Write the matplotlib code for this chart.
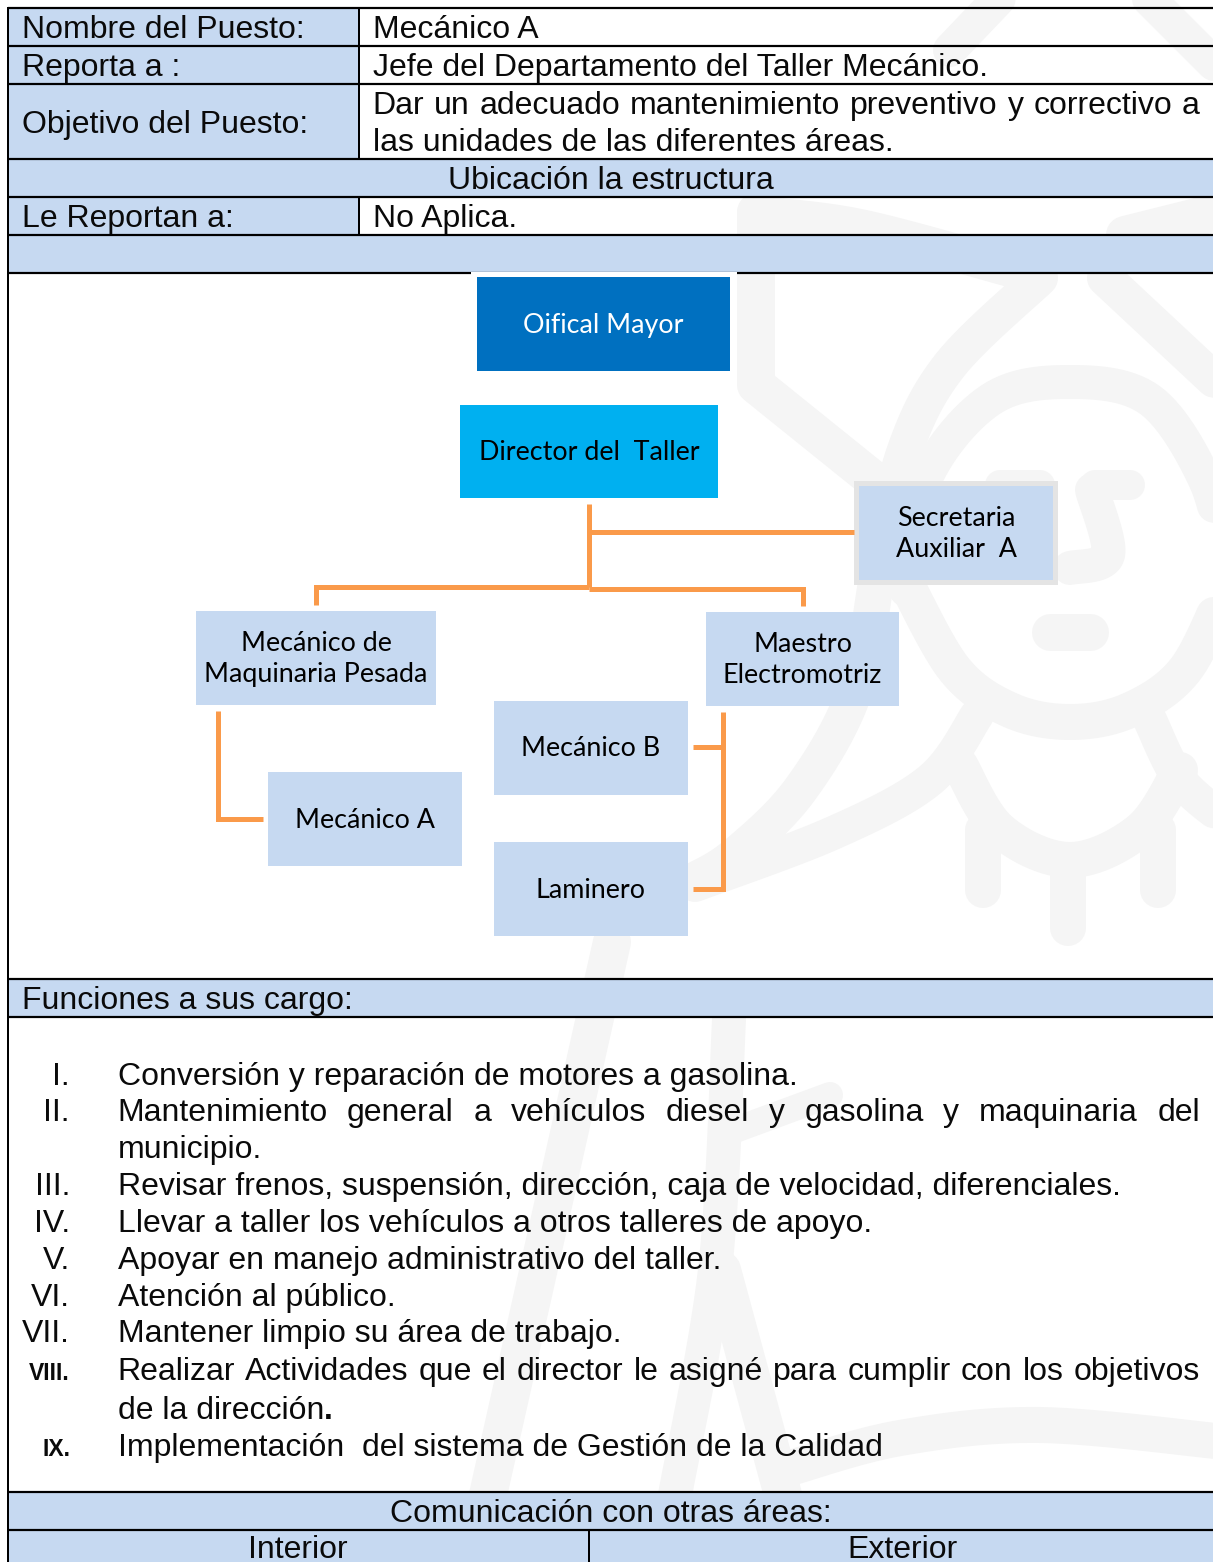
import matplotlib
matplotlib.use("Agg")
import matplotlib.pyplot as plt
import numpy as np
from matplotlib.patches import Rectangle

BLUE = "#c6d9f1"
ORANGE = "#fa9a4a"
MARK = "#f5f5f5"
FS = 23.0  # body text, pt at dpi 100

header_labels = ["Nombre del Puesto:", "Reporta a :", "Objetivo del Puesto:", "Le Reportan a:"]
header_values = ["Mecánico A", "Jefe del Departamento del Taller Mecánico.", "No Aplica."]
objetivo = ["Dar un adecuado mantenimiento preventivo y correctivo a",
            "las unidades de las diferentes áreas."]
section_titles = ["Ubicación la estructura", "Funciones a sus cargo:", "Comunicación con otras áreas:"]
col_titles = ["Interior", "Exterior"]

org_names = ["Oifical Mayor", "Director del  Taller", "Secretaria\nAuxiliar  A",
             "Mecánico de\nMaquinaria Pesada", "Maestro\nElectromotriz",
             "Mecánico B", "Mecánico A", "Laminero"]
org_colors = ["#0070c0", "#00b0f0", BLUE, BLUE, BLUE, BLUE, BLUE, BLUE]
org_text = ["white", "black", "black", "black", "black", "black", "black", "black"]
org_boxes = [(477, 277, 730, 371), (460, 405, 718, 498), (859, 486, 1053, 580),
             (196, 611, 436, 705), (706, 612, 899, 706), (494, 701, 688, 795),
             (268, 772, 462, 866), (494, 842, 688, 936)]

numerals = ["I.", "II.", "", "III.", "IV.", "V.", "VI.", "VII.", "VIII.", "", "IX."]
funciones = ["Conversión y reparación de motores a gasolina.",
             "Mantenimiento general a vehículos diesel y gasolina y maquinaria del",
             "municipio.",
             "Revisar frenos, suspensión, dirección, caja de velocidad, diferenciales.",
             "Llevar a taller los vehículos a otros talleres de apoyo.",
             "Apoyar en manejo administrativo del taller.",
             "Atención al público.",
             "Mantener limpio su área de trabajo.",
             "Realizar Actividades que el director le asigné para cumplir con los objetivos",
             "de la dirección",
             "Implementación  del sistema de Gestión de la Calidad"]
funciones_y = [1085, 1121, 1158, 1195, 1232, 1269, 1306, 1342, 1380, 1419, 1456]
justified = [1, 8]

# watermark strokes, pixel coordinates, (points, width in px, smooth or not)
watermark = [
    ([(950, 50), (1012, -15)], 34, False),
    ([(1135, -15), (1225, 75)], 34, False),
    ([(756, 212), (756, 385), (905, 505)], 38, False),
    ([(756, 215), (860, 228), (1010, 268)], 38, True),
    ([(1125, 235), (1225, 210)], 38, False),
    ([(1040, 278), (950, 365), (905, 450), (880, 560), (855, 690), (800, 790), (735, 855), (695, 880)], 36, True),
    ([(1105, 278), (1225, 390)], 36, False),
    ([(906, 590), (925, 480), (990, 400), (1070, 382), (1150, 400), (1205, 480), (1225, 560)], 34, True),
    ([(906, 583), (955, 670), (1010, 710), (1070, 722), (1130, 710), (1185, 670), (1225, 590)], 36, True),
    ([(695, 885), (833, 833), (930, 780), (977, 715)], 34, True),
    ([(960, 765), (1000, 830), (1070, 860), (1140, 830), (1180, 770)], 36, True),
    ([(983, 830), (983, 890)], 36, False),
    ([(1068, 860), (1068, 928)], 36, False),
    ([(1158, 830), (1158, 890)], 36, False),
    ([(1150, 720), (1180, 780), (1225, 820)], 34, True),
    ([(1050, 632), (1090, 632)], 37, False),
    ([(1000, 485), (1040, 485)], 30, False),
    ([(1095, 485), (1130, 485)], 30, False),
    ([(1092, 490), (1108, 555), (1070, 568)], 34, True),
    ([(612, 942), (488, 1495)], 38, False),
    ([(729, 1020), (715, 1270), (675, 1495)], 34, True),
    ([(722, 1270), (783, 1495)], 38, False),
    ([(735, 1130), (830, 1095)], 26, False),
    ([(790, 1468), (900, 1438), (1040, 1425), (1225, 1442)], 36, True),
]

fig = plt.figure(figsize=(12.13, 15.62), dpi=100)
ax = fig.add_axes([0, 0, 1, 1])
ax.set_xlim(0, 1213)
ax.set_ylim(1562, 0)
ax.axis("off")
px = 72 / 100


def smooth(pts):
    # catmull-rom through the points
    p = np.array([pts[0]] + list(pts) + [pts[-1]], dtype=float)
    out = []
    for i in range(1, len(p) - 2):
        for t in np.linspace(0, 1, 16):
            out.append(0.5 * (2 * p[i] + (p[i + 1] - p[i - 1]) * t
                              + (2 * p[i - 1] - 5 * p[i] + 4 * p[i + 1] - p[i + 2]) * t ** 2
                              + (3 * p[i] - p[i - 1] - 3 * p[i + 1] + p[i + 2]) * t ** 3))
    return np.array(out)


def put(x, y, s, ha="left", size=FS, weight="normal"):
    return ax.text(x, y, s, ha=ha, va="baseline", fontsize=size, weight=weight,
                   family="Liberation Sans", color="#0a0a0a", zorder=6)


def put_justified(x0, x1, y, s):
    # spread the words so the line runs to the right margin
    words = s.split()
    r = fig.canvas.get_renderer()
    inv = ax.transData.inverted()
    widths = []
    for w in words:
        t = put(0, y, w)
        bb = t.get_window_extent(r)
        widths.append(inv.transform((bb.x1, 0))[0] - inv.transform((bb.x0, 0))[0])
        t.remove()
    gap = (x1 - x0 - sum(widths)) / (len(words) - 1)
    x = x0
    for w, wd in zip(words, widths):
        put(x, y, w)
        x += wd + gap


for pts, w, curved in watermark:
    xy = smooth(pts) if curved else np.array(pts, dtype=float)
    ax.plot(xy[:, 0], xy[:, 1], color=MARK, lw=w * px,
            solid_capstyle="round", solid_joinstyle="round", zorder=1)

# table fills
for x0, y0, x1, y1 in [(8, 8, 359, 197), (8, 159, 1213, 197), (8, 197, 359, 235),
                       (8, 235, 1213, 273), (8, 979, 1213, 1017), (8, 1492, 1213, 1562)]:
    ax.add_patch(Rectangle((x0, y0), x1 - x0, y1 - y0, fc=BLUE, ec="none", zorder=2))

# table rules
for y in [8, 46, 84, 159, 197, 235, 273, 979, 1017, 1492, 1530]:
    ax.plot([8, 1213], [y, y], color="black", lw=2.2 * px, zorder=3, solid_capstyle="butt")
ax.plot([8, 8], [8, 1562], color="black", lw=2 * px, zorder=3)
ax.plot([359, 359], [8, 159], color="black", lw=2 * px, zorder=3)
ax.plot([359, 359], [197, 235], color="black", lw=2 * px, zorder=3)
ax.plot([589, 589], [1530, 1562], color="black", lw=2 * px, zorder=3)

put(22, 38, header_labels[0])
put(22, 76, header_labels[1])
put(22, 133, header_labels[2])
put(22, 227, header_labels[3])
put(373, 38, header_values[0])
put(373, 76, header_values[1])
put(373, 227, header_values[2])
put_justified(372, 1200, 114, objetivo[0])
put(373, 151, objetivo[1])
put(611, 189, section_titles[0], ha="center")
put(22, 1009, section_titles[1])
put(611, 1522, section_titles[2], ha="center")
put(298, 1558, col_titles[0], ha="center")
put(902, 1558, col_titles[1], ha="center")

# org chart
ax.plot([472, 735], [273, 273], color="white", lw=3 * px, zorder=4)
ax.add_patch(Rectangle((854, 481), 204, 104, fc="#e4e4e4", ec="none", zorder=4))
for name, box, c, tc in zip(org_names, org_boxes, org_colors, org_text):
    x0, y0, x1, y1 = box
    ax.text((x0 + x1) / 2, (y0 + y1) / 2 + 1, name, ha="center", va="center", fontsize=19.4,
            family="Lato", color=tc, linespacing=1.3, zorder=6)
    ax.add_patch(Rectangle((x0, y0), x1 - x0, y1 - y0, fc=c, ec="none", zorder=5))

connectors = [[(589, 504), (589, 587)], [(589, 532), (854, 532)],
              [(316, 605), (316, 587), (589, 587)], [(589, 589), (803, 589), (803, 606)],
              [(218, 711), (218, 819), (263, 819)], [(723, 712), (723, 889), (693, 889)],
              [(693, 747), (723, 747)]]
for c in connectors:
    ax.plot([p[0] for p in c], [p[1] for p in c], color=ORANGE, lw=5 * px,
            solid_capstyle="butt", solid_joinstyle="miter", zorder=4)

# functions list
for i, (num, s, y) in enumerate(zip(numerals, funciones, funciones_y)):
    if num in ("VIII.", "IX."):
        put(70, y, num, ha="right", size=16.5, weight="bold")
    elif num:
        put(70, y, num, ha="right")
    if i in justified:
        put_justified(117, 1200, y, s)
    else:
        t = put(118, y, s)
        if s == "de la dirección":
            bb = t.get_window_extent(fig.canvas.get_renderer())
            put(ax.transData.inverted().transform((bb.x1, 0))[0], y, ".", weight="bold")

fig.savefig("out.png", dpi=100)
